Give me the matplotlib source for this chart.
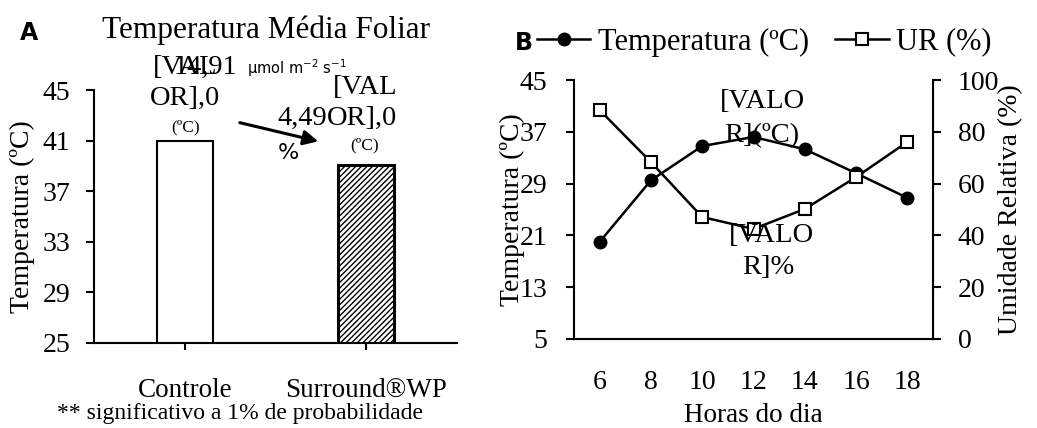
import matplotlib
matplotlib.use("Agg")
import matplotlib.pyplot as plt
from matplotlib.lines import Line2D

plt.rcParams['font.family'] = ['Liberation Serif', 'DejaVu Serif']
plt.rcParams['hatch.color'] = '#555555'
plt.rcParams['hatch.linewidth'] = 1.0

# Panel A data
categorias = ["Controle", "Surround®WP"]
temp_folia = [41.0, 39.1]
yticks_a = [25, 29, 33, 37, 41, 45]

# Panel B data
horas = [6, 8, 10, 12, 14, 16, 18]
temperatura = [20.0, 29.5, 34.8, 36.2, 34.3, 30.6, 26.8]
umidade = [88.4, 68.3, 47.1, 42.5, 50.2, 62.5, 76.1]
yticks_b_left = [5, 13, 21, 29, 37, 45]
yticks_b_right = [0, 20, 40, 60, 80, 100]

W, H = 1037, 428
fig = plt.figure(figsize=(W / 100, H / 100), dpi=100)

def fx(x):
    return x / W

def fy(y):
    return 1 - y / H

def ptext(x, y, s, **kw):
    fig.text(fx(x), fy(y), s, **kw)

FS = 20
ANN = 20.5

# ---------- Panel A ----------
axA = fig.add_axes([fx(94), fy(343), fx(457) - fx(94), fy(90) - fy(343)])
xs = list(range(len(categorias)))
bars = axA.bar(xs, temp_folia, width=0.31, bottom=0, color='white',
               edgecolor='black', linewidth=1.5)
bars[1].set_hatch('//////')
bars[1].set_linewidth(2.2)
axA.set_ylim(25, 45)
axA.set_xlim(-0.5, 1.5)
axA.set_yticks(yticks_a)
axA.set_xticks(xs)
axA.set_xticklabels(categorias, fontsize=19.5)
axA.tick_params(axis='x', pad=20, length=5, width=1.5)
axA.tick_params(axis='y', labelsize=FS, length=6, width=1.5, pad=11)
for s in ['top', 'right']:
    axA.spines[s].set_visible(False)
for s in ['left', 'bottom']:
    axA.spines[s].set_linewidth(1.5)
axA.set_ylabel("Temperatura (ºC)", fontsize=FS)
axA.yaxis.set_label_coords((35 - 94) / 363, 0.5)

ptext(20, 33, "A", fontsize=17, fontweight='bold', family='DejaVu Sans',
      ha='left', va='center')
ptext(266, 30, "Temperatura Média Foliar", fontsize=22.5, ha='center', va='center')

# annotations panel A
ptext(153, 67, "[VAL", fontsize=ANN, ha='left', va='center')
ptext(174, 67, "14,91", fontsize=ANN, ha='left', va='center')
ptext(247, 68, "μmol m$^{-2}$ s$^{-1}$", fontsize=10.5, family='DejaVu Sans',
      ha='left', va='center')
ptext(150, 98, "OR],0", fontsize=ANN, ha='left', va='center')
ptext(186, 127, "(ºC)", fontsize=12.5, ha='center', va='center')
ptext(333, 87, "[VAL", fontsize=ANN, ha='left', va='center')
ptext(327, 118, "OR],0", fontsize=ANN, ha='left', va='center')
ptext(365, 145, "(ºC)", fontsize=12.5, ha='center', va='center')
ptext(277, 118, "4,49", fontsize=ANN, ha='left', va='center')
ptext(288, 153, "%", fontsize=16, family='DejaVu Sans', ha='center', va='center')
fig.patches.append(matplotlib.patches.FancyArrowPatch(
    (fx(237), fy(122)), (fx(321), fy(142)), transform=fig.transFigure,
    arrowstyle='-|>', mutation_scale=22, color='black', linewidth=2.2))

ptext(240, 413, "** significativo a 1% de probabilidade", fontsize=17,
      ha='center', va='center')

# ---------- Panel B ----------
axB = fig.add_axes([fx(574), fy(339), fx(933) - fx(574), fy(80) - fy(339)])
axB.plot(horas, temperatura, color='black', linewidth=1.8, marker='o',
         markersize=9, markerfacecolor='black', markeredgecolor='black')
axB.set_ylim(5, 45)
axB.set_xlim(5, 19)
axB.set_yticks(yticks_b_left)
axB.set_xticks(horas)
axB.tick_params(axis='y', labelsize=FS, length=6, width=1.5, pad=13)
axB.tick_params(axis='x', labelsize=FS, length=0, pad=22)
axB.set_ylabel("Temperatura (ºC)", fontsize=FS)
axB.yaxis.set_label_coords((525 - 574) / 359, 0.5)
axB.set_xlabel("Horas do dia", fontsize=19.5)
axB.xaxis.set_label_coords(0.5, (339 - 403) / 259)
axB.spines['top'].set_visible(False)
axB.spines['left'].set_linewidth(1.5)
axB.spines['bottom'].set_linewidth(1.5)

axB2 = axB.twinx()
axB2.plot(horas, umidade, color='black', linewidth=1.8, marker='s',
          markersize=8.5, markerfacecolor='white', markeredgecolor='black',
          markeredgewidth=1.5)
axB2.set_ylim(0, 100)
axB2.set_yticks(yticks_b_right)
axB2.tick_params(axis='y', labelsize=FS, length=6, width=1.5, pad=12)
axB2.set_ylabel("Umidade Relativa (%)", fontsize=FS)
axB2.yaxis.set_label_coords((998 - 574) / 359, 0.5)
axB2.spines['top'].set_visible(False)
axB2.spines['right'].set_linewidth(1.5)
axB2.spines['left'].set_visible(False)

ptext(762, 102, "[VALO", fontsize=ANN, ha='center', va='center')
ptext(762, 136, "R](ºC)", fontsize=ANN, ha='center', va='center')
ptext(771, 236, "[VALO", fontsize=ANN, ha='center', va='center')
ptext(768, 268, "R]%", fontsize=ANN, ha='center', va='center')

# legend panel B
ptext(515, 43, "B", fontsize=17, fontweight='bold', family='DejaVu Sans',
      ha='left', va='center')
h1 = Line2D([], [], color='black', linewidth=1.8, marker='o', markersize=9,
            markerfacecolor='black')
h2 = Line2D([], [], color='black', linewidth=1.8, marker='s', markersize=8,
            markerfacecolor='white', markeredgewidth=1.5)
fig.legend([h1, h2], ["Temperatura (ºC)", "UR (%)"], ncol=2,
           loc='center left', bbox_to_anchor=(fx(537), fy(42)),
           frameon=False, fontsize=22, handlelength=1.75, handletextpad=0.25,
           columnspacing=0.85, borderaxespad=0, borderpad=0)

fig.savefig("out.png", dpi=100)
